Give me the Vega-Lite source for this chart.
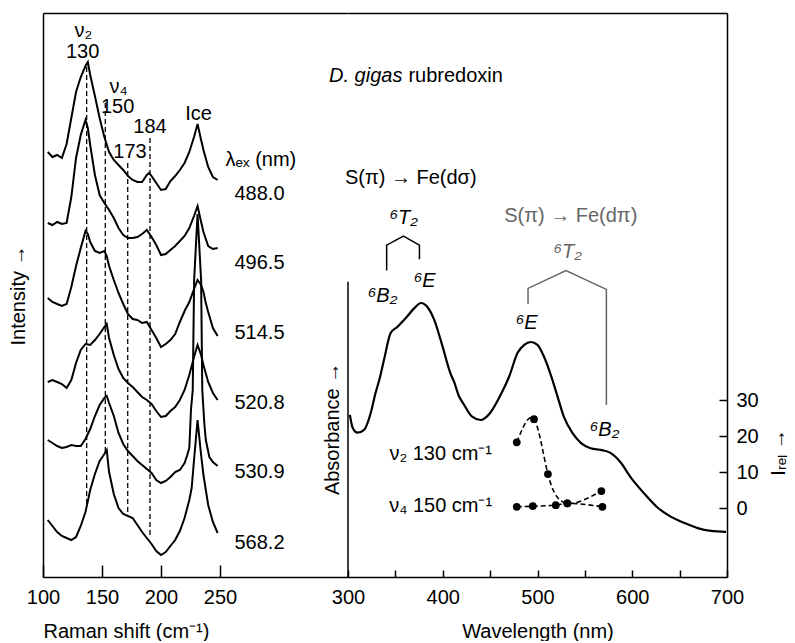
{
  "$schema": "https://vega.github.io/schema/vega-lite/v6.json",
  "padding": {"left": 8, "top": 13, "right": 0, "bottom": 0},
  "spacing": 0,
  "bounds": "flush",
  "config": {
    "font": "Liberation Sans",
    "view": {"stroke": null},
    "axis": {"grid": false, "domainColor": "#000", "domainWidth": 1.5, "tickColor": "#000", "tickWidth": 1.5, "labelColor": "#000", "labelFontSize": 20, "titleColor": "#000", "titleFontSize": 20, "titleFontWeight": "normal", "labelFont": "Liberation Sans", "titleFont": "Liberation Sans"}
  },
  "datasets": {
    "traces": [
      {"t":"488.0","r":104,"i":425},{"t":"488.0","r":108,"i":420},{"t":"488.0","r":112,"i":422},{"t":"488.0","r":116,"i":419},{"t":"488.0","r":120,"i":433},{"t":"488.0","r":124,"i":459},{"t":"488.0","r":128,"i":485},{"t":"488.0","r":132,"i":500},{"t":"488.0","r":136,"i":511},{"t":"488.0","r":138,"i":515},{"t":"488.0","r":140,"i":502},{"t":"488.0","r":144,"i":481},{"t":"488.0","r":148,"i":459},{"t":"488.0","r":152,"i":440},{"t":"488.0","r":156,"i":425},{"t":"488.0","r":160,"i":417},{"t":"488.0","r":164,"i":412},{"t":"488.0","r":168,"i":407},{"t":"488.0","r":172,"i":401},{"t":"488.0","r":176,"i":397},{"t":"488.0","r":180,"i":395},{"t":"488.0","r":184,"i":395},{"t":"488.0","r":188,"i":402},{"t":"488.0","r":190,"i":404},{"t":"488.0","r":192,"i":401},{"t":"488.0","r":196,"i":394},{"t":"488.0","r":200,"i":387},{"t":"488.0","r":204,"i":388},{"t":"488.0","r":208,"i":396},{"t":"488.0","r":212,"i":401},{"t":"488.0","r":216,"i":407},{"t":"488.0","r":220,"i":414},{"t":"488.0","r":224,"i":425},{"t":"488.0","r":228,"i":440},{"t":"488.0","r":231,"i":453},{"t":"488.0","r":234,"i":437},{"t":"488.0","r":236,"i":427},{"t":"488.0","r":240,"i":410},{"t":"488.0","r":244,"i":400},{"t":"488.0","r":248,"i":397},
      {"t":"496.5","r":104,"i":354},{"t":"496.5","r":108,"i":352},{"t":"496.5","r":112,"i":355},{"t":"496.5","r":116,"i":353},{"t":"496.5","r":120,"i":354},{"t":"496.5","r":124,"i":380},{"t":"496.5","r":128,"i":419},{"t":"496.5","r":132,"i":442},{"t":"496.5","r":136,"i":457},{"t":"496.5","r":138,"i":449},{"t":"496.5","r":140,"i":432},{"t":"496.5","r":144,"i":402},{"t":"496.5","r":148,"i":382},{"t":"496.5","r":152,"i":374},{"t":"496.5","r":156,"i":367},{"t":"496.5","r":160,"i":359},{"t":"496.5","r":164,"i":349},{"t":"496.5","r":168,"i":342},{"t":"496.5","r":172,"i":339},{"t":"496.5","r":176,"i":339},{"t":"496.5","r":180,"i":340},{"t":"496.5","r":184,"i":343},{"t":"496.5","r":188,"i":347},{"t":"496.5","r":192,"i":340},{"t":"496.5","r":196,"i":332},{"t":"496.5","r":200,"i":322},{"t":"496.5","r":204,"i":323},{"t":"496.5","r":208,"i":327},{"t":"496.5","r":212,"i":331},{"t":"496.5","r":216,"i":336},{"t":"496.5","r":220,"i":341},{"t":"496.5","r":224,"i":349},{"t":"496.5","r":228,"i":361},{"t":"496.5","r":231,"i":371},{"t":"496.5","r":234,"i":355},{"t":"496.5","r":236,"i":345},{"t":"496.5","r":240,"i":331},{"t":"496.5","r":244,"i":328},{"t":"496.5","r":248,"i":329},
      {"t":"514.5","r":104,"i":279},{"t":"514.5","r":108,"i":275},{"t":"514.5","r":112,"i":273},{"t":"514.5","r":116,"i":271},{"t":"514.5","r":120,"i":273},{"t":"514.5","r":124,"i":290},{"t":"514.5","r":128,"i":311},{"t":"514.5","r":132,"i":329},{"t":"514.5","r":136,"i":346},{"t":"514.5","r":138,"i":343},{"t":"514.5","r":140,"i":335},{"t":"514.5","r":144,"i":326},{"t":"514.5","r":148,"i":324},{"t":"514.5","r":152,"i":326},{"t":"514.5","r":154,"i":321},{"t":"514.5","r":156,"i":311},{"t":"514.5","r":160,"i":297},{"t":"514.5","r":164,"i":284},{"t":"514.5","r":168,"i":273},{"t":"514.5","r":172,"i":263},{"t":"514.5","r":176,"i":258},{"t":"514.5","r":180,"i":257},{"t":"514.5","r":184,"i":254},{"t":"514.5","r":188,"i":255},{"t":"514.5","r":192,"i":247},{"t":"514.5","r":196,"i":239},{"t":"514.5","r":200,"i":230},{"t":"514.5","r":204,"i":233},{"t":"514.5","r":208,"i":237},{"t":"514.5","r":212,"i":243},{"t":"514.5","r":216,"i":255},{"t":"514.5","r":220,"i":266},{"t":"514.5","r":224,"i":275},{"t":"514.5","r":228,"i":288},{"t":"514.5","r":231,"i":297},{"t":"514.5","r":234,"i":292},{"t":"514.5","r":236,"i":285},{"t":"514.5","r":238,"i":274},{"t":"514.5","r":240,"i":265},{"t":"514.5","r":244,"i":249},{"t":"514.5","r":248,"i":241},
      {"t":"520.8","r":104,"i":195},{"t":"520.8","r":108,"i":197},{"t":"520.8","r":112,"i":195},{"t":"520.8","r":116,"i":193},{"t":"520.8","r":120,"i":189},{"t":"520.8","r":124,"i":197},{"t":"520.8","r":128,"i":214},{"t":"520.8","r":132,"i":227},{"t":"520.8","r":136,"i":233},{"t":"520.8","r":140,"i":232},{"t":"520.8","r":144,"i":237},{"t":"520.8","r":148,"i":243},{"t":"520.8","r":152,"i":250},{"t":"520.8","r":154,"i":253},{"t":"520.8","r":156,"i":239},{"t":"520.8","r":160,"i":222},{"t":"520.8","r":164,"i":208},{"t":"520.8","r":168,"i":199},{"t":"520.8","r":172,"i":194},{"t":"520.8","r":176,"i":190},{"t":"520.8","r":180,"i":185},{"t":"520.8","r":184,"i":180},{"t":"520.8","r":188,"i":177},{"t":"520.8","r":192,"i":173},{"t":"520.8","r":196,"i":166},{"t":"520.8","r":200,"i":160},{"t":"520.8","r":204,"i":161},{"t":"520.8","r":208,"i":166},{"t":"520.8","r":212,"i":170},{"t":"520.8","r":216,"i":177},{"t":"520.8","r":220,"i":187},{"t":"520.8","r":224,"i":202},{"t":"520.8","r":228,"i":220},{"t":"520.8","r":231,"i":232},{"t":"520.8","r":234,"i":222},{"t":"520.8","r":236,"i":212},{"t":"520.8","r":240,"i":195},{"t":"520.8","r":244,"i":184},{"t":"520.8","r":248,"i":177},
      {"t":"530.9","r":104,"i":137},{"t":"530.9","r":108,"i":134},{"t":"530.9","r":112,"i":131},{"t":"530.9","r":116,"i":129},{"t":"530.9","r":120,"i":130},{"t":"530.9","r":124,"i":132},{"t":"530.9","r":128,"i":131},{"t":"530.9","r":132,"i":131},{"t":"530.9","r":136,"i":138},{"t":"530.9","r":140,"i":148},{"t":"530.9","r":144,"i":161},{"t":"530.9","r":148,"i":172},{"t":"530.9","r":152,"i":179},{"t":"530.9","r":154,"i":181},{"t":"530.9","r":156,"i":174},{"t":"530.9","r":160,"i":161},{"t":"530.9","r":164,"i":144},{"t":"530.9","r":168,"i":133},{"t":"530.9","r":172,"i":126},{"t":"530.9","r":176,"i":121},{"t":"530.9","r":180,"i":116},{"t":"530.9","r":184,"i":112},{"t":"530.9","r":188,"i":108},{"t":"530.9","r":192,"i":104},{"t":"530.9","r":196,"i":97},{"t":"530.9","r":200,"i":94},{"t":"530.9","r":204,"i":96},{"t":"530.9","r":208,"i":100},{"t":"530.9","r":212,"i":105},{"t":"530.9","r":216,"i":107},{"t":"530.9","r":220,"i":114},{"t":"530.9","r":222,"i":121},{"t":"530.9","r":224,"i":129},{"t":"530.9","r":225.4,"i":167},{"t":"530.9","r":226.9,"i":187},{"t":"530.9","r":228.1,"i":297},{"t":"530.9","r":231,"i":363},{"t":"530.9","r":234,"i":297},{"t":"530.9","r":235,"i":187},{"t":"530.9","r":236.7,"i":154},{"t":"530.9","r":238,"i":137},{"t":"530.9","r":241,"i":120},{"t":"530.9","r":244,"i":115},{"t":"530.9","r":248,"i":111},
      {"t":"568.2","r":104,"i":57},{"t":"568.2","r":108,"i":51},{"t":"568.2","r":112,"i":45},{"t":"568.2","r":116,"i":41},{"t":"568.2","r":120,"i":39},{"t":"568.2","r":124,"i":37},{"t":"568.2","r":128,"i":40},{"t":"568.2","r":132,"i":51},{"t":"568.2","r":136,"i":65},{"t":"568.2","r":140,"i":87},{"t":"568.2","r":144,"i":103},{"t":"568.2","r":148,"i":116},{"t":"568.2","r":152,"i":123},{"t":"568.2","r":154,"i":127},{"t":"568.2","r":156,"i":105},{"t":"568.2","r":160,"i":83},{"t":"568.2","r":164,"i":69},{"t":"568.2","r":168,"i":63},{"t":"568.2","r":172,"i":61},{"t":"568.2","r":176,"i":59},{"t":"568.2","r":180,"i":52},{"t":"568.2","r":184,"i":45},{"t":"568.2","r":188,"i":39},{"t":"568.2","r":192,"i":33},{"t":"568.2","r":196,"i":26},{"t":"568.2","r":200,"i":22},{"t":"568.2","r":204,"i":25},{"t":"568.2","r":208,"i":31},{"t":"568.2","r":212,"i":37},{"t":"568.2","r":216,"i":46},{"t":"568.2","r":220,"i":59},{"t":"568.2","r":224,"i":77},{"t":"568.2","r":226,"i":89},{"t":"568.2","r":228,"i":117},{"t":"568.2","r":231,"i":157},{"t":"568.2","r":234,"i":122},{"t":"568.2","r":236,"i":102},{"t":"568.2","r":240,"i":72},{"t":"568.2","r":244,"i":55},{"t":"568.2","r":248,"i":44}
    ],
    "markers": [
      {"r":137.0,"top":510,"bottom":72},
      {"r":152.8,"top":474,"bottom":124},
      {"r":171.8,"top":414,"bottom":62},
      {"r":190.7,"top":439,"bottom":42}
    ],
    "leftLabels": [
      {"r":134.3,"i":546,"label":"ν₂"},
      {"r":133.6,"i":525,"label":"130"},
      {"r":164.0,"i":490,"label":"ν₄"},
      {"r":163.3,"i":470,"label":"150"},
      {"r":173.7,"i":425,"label":"173"},
      {"r":190.7,"i":450,"label":"184"},
      {"r":231.8,"i":463,"label":"Ice"},
      {"r":284.7,"i":417,"label":"λₑₓ (nm)"},
      {"r":283.5,"i":383,"label":"488.0"},
      {"r":283.5,"i":314,"label":"496.5"},
      {"r":283.5,"i":244,"label":"514.5"},
      {"r":283.5,"i":174,"label":"520.8"},
      {"r":283.5,"i":105,"label":"530.9"},
      {"r":283.5,"i":34,"label":"568.2"}
    ],
    "absorb": [
      {"wl":302,"A":0.345},{"wl":305,"A":0.317},{"wl":310,"A":0.307},{"wl":317,"A":0.313},{"wl":324,"A":0.349},{"wl":329,"A":0.391},{"wl":333,"A":0.419},{"wl":338,"A":0.462},{"wl":345,"A":0.519},{"wl":352,"A":0.532},{"wl":361,"A":0.551},{"wl":370,"A":0.572},{"wl":377,"A":0.583},{"wl":384,"A":0.574},{"wl":391,"A":0.547},{"wl":400,"A":0.489},{"wl":408,"A":0.434},{"wl":412,"A":0.415},{"wl":417,"A":0.385},{"wl":422,"A":0.368},{"wl":431,"A":0.341},{"wl":440,"A":0.334},{"wl":450,"A":0.349},{"wl":461,"A":0.387},{"wl":470,"A":0.426},{"wl":479,"A":0.477},{"wl":486,"A":0.494},{"wl":493,"A":0.5},{"wl":500,"A":0.494},{"wl":507,"A":0.468},{"wl":514,"A":0.43},{"wl":521,"A":0.385},{"wl":528,"A":0.34},{"wl":537,"A":0.306},{"wl":546,"A":0.285},{"wl":556,"A":0.274},{"wl":568,"A":0.27},{"wl":577,"A":0.264},{"wl":588,"A":0.243},{"wl":598,"A":0.213},{"wl":612,"A":0.179},{"wl":626,"A":0.149},{"wl":641,"A":0.128},{"wl":655,"A":0.115},{"wl":669,"A":0.104},{"wl":683,"A":0.098},{"wl":699,"A":0.096}
    ],
    "absAxis": [{"wl":300,"A0":0,"A1":0.628}],
    "brackets": [
      {"g":"black","o":1,"wl":340.8,"A":0.652},{"g":"black","o":2,"wl":340.8,"A":0.706},{"g":"black","o":3,"wl":358.5,"A":0.7255},{"g":"black","o":4,"wl":375.4,"A":0.706},{"g":"black","o":5,"wl":375.4,"A":0.676},
      {"g":"gray","o":1,"wl":490,"A":0.581},{"g":"gray","o":2,"wl":490,"A":0.614},{"g":"gray","o":3,"wl":530.1,"A":0.652},{"g":"gray","o":4,"wl":572.7,"A":0.612},{"g":"gray","o":5,"wl":572.7,"A":0.366}
    ],
    "rtext": [
      {"s":"i","wl":318.7,"A":1.066,"label":"D. gigas"},
      {"s":"n","wl":413.6,"A":1.066,"label":"rubredoxin"},
      {"s":"n","wl":366.2,"A":0.849,"label":"S(π) → Fe(dσ)"},
      {"s":"i","wl":358.8,"A":0.764,"label":"⁶T₂"},
      {"s":"i","wl":336.6,"A":0.598,"label":"⁶B₂"},
      {"s":"i","wl":381.0,"A":0.630,"label":"⁶E"},
      {"s":"g","wl":535.1,"A":0.768,"label":"S(π) → Fe(dπ)"},
      {"s":"gi","wl":531.9,"A":0.691,"label":"⁶T₂"},
      {"s":"i","wl":488.6,"A":0.540,"label":"⁶E"},
      {"s":"i","wl":570.9,"A":0.313,"label":"⁶B₂"},
      {"s":"n","wl":397.8,"A":0.262,"label":"ν₂ 130 cm⁻¹"},
      {"s":"n","wl":397.8,"A":0.151,"label":"ν₄ 150 cm⁻¹"},
      {"s":"rot","wl":283.9,"A":0.315,"label":"Absorbance →"}
    ],
    "irel": [
      {"mode":"v2","wl":478.1,"I":18.3},{"mode":"v2","wl":496.3,"I":24.7},{"mode":"v2","wl":511.0,"I":9.5},{"mode":"v2","wl":531.5,"I":1.4},{"mode":"v2","wl":567.4,"I":4.8},
      {"mode":"v4","wl":478.1,"I":0.45},{"mode":"v4","wl":495.0,"I":0.6},{"mode":"v4","wl":519.3,"I":0.9},{"mode":"v4","wl":531.5,"I":1.4},{"mode":"v4","wl":568.5,"I":0.45}
    ]
  },
  "hconcat": [
    {
      "width": 305,
      "height": 564,
      "layer": [
        {
          "data": {"name": "traces"},
          "mark": {"type": "line", "color": "#000", "strokeWidth": 2},
          "encoding": {
            "x": {"field": "r", "type": "quantitative", "scale": {"domain": [100, 358.5], "nice": false, "zero": false},
                  "axis": {"orient": "bottom", "values": [100, 150, 200, 250], "tickSize": -12, "labelPadding": 22, "labelFlush": false, "title": "Raman shift (cm⁻¹)", "titleAnchor": "start", "titlePadding": 14}},
            "y": {"field": "i", "type": "quantitative", "scale": {"domain": [0, 564], "nice": false, "zero": false},
                  "axis": {"orient": "left", "ticks": false, "labels": false, "domain": true, "title": "Intensity →", "titlePadding": 15}},
            "detail": {"field": "t"}
          }
        },
        {
          "data": {"name": "markers"},
          "mark": {"type": "rule", "color": "#000", "strokeWidth": 1.3, "strokeDash": [5, 3]},
          "encoding": {
            "x": {"field": "r", "type": "quantitative", "axis": {"orient": "top", "ticks": false, "labels": false, "title": null}},
            "y": {"field": "top", "type": "quantitative"},
            "y2": {"field": "bottom"}
          }
        },
        {
          "data": {"name": "leftLabels"},
          "mark": {"type": "text", "fontSize": 20, "align": "center", "baseline": "middle", "color": "#000"},
          "encoding": {
            "x": {"field": "r", "type": "quantitative", "axis": null},
            "y": {"field": "i", "type": "quantitative"},
            "text": {"field": "label"}
          }
        }
      ]
    },
    {
      "width": 379,
      "height": 564,
      "resolve": {"scale": {"y": "independent"}},
      "layer": [
        {
          "layer": [
            {
              "data": {"name": "absorb"},
              "mark": {"type": "line", "color": "#000", "strokeWidth": 2.2, "interpolate": "monotone"},
              "encoding": {
                "x": {"field": "wl", "type": "quantitative", "scale": {"domain": [300, 700], "nice": false, "zero": false},
                      "axis": {"orient": "bottom", "values": [300, 350, 400, 450, 500, 550, 600, 650, 700], "labelExpr": "datum.value % 100 === 0 ? datum.label : ''", "tickSize": -7, "labelPadding": 17, "labelFlush": false, "title": "Wavelength (nm)", "titlePadding": 14}},
                "y": {"field": "A", "type": "quantitative", "scale": {"domain": [0, 1.2], "nice": false, "zero": false}, "axis": null}
              }
            },
            {
              "data": {"name": "absAxis"},
              "mark": {"type": "rule", "color": "#000", "strokeWidth": 1.5},
              "encoding": {
                "x": {"field": "wl", "type": "quantitative", "axis": {"orient": "top", "ticks": false, "labels": false, "title": null}},
                "y": {"field": "A0", "type": "quantitative", "scale": {"domain": [0, 1.2], "nice": false, "zero": false}, "axis": null},
                "y2": {"field": "A1"}
              }
            },
            {
              "data": {"name": "brackets"},
              "mark": {"type": "line", "strokeWidth": 1.5},
              "encoding": {
                "x": {"field": "wl", "type": "quantitative", "axis": null},
                "y": {"field": "A", "type": "quantitative", "scale": {"domain": [0, 1.2], "nice": false, "zero": false}, "axis": null},
                "detail": {"field": "g"},
                "order": {"field": "o", "type": "quantitative"},
                "color": {"field": "g", "type": "nominal", "scale": {"domain": ["black", "gray"], "range": ["#000000", "#666666"]}, "legend": null}
              }
            },
            {
              "data": {"name": "rtext"},
              "transform": [{"filter": "datum.s === 'n'"}],
              "mark": {"type": "text", "fontSize": 20, "align": "center", "baseline": "middle", "color": "#000"},
              "encoding": {
                "x": {"field": "wl", "type": "quantitative", "axis": null},
                "y": {"field": "A", "type": "quantitative", "scale": {"domain": [0, 1.2], "nice": false, "zero": false}, "axis": null},
                "text": {"field": "label"}
              }
            },
            {
              "data": {"name": "rtext"},
              "transform": [{"filter": "datum.s === 'i'"}],
              "mark": {"type": "text", "fontSize": 20, "fontStyle": "italic", "align": "center", "baseline": "middle", "color": "#000"},
              "encoding": {
                "x": {"field": "wl", "type": "quantitative", "axis": null},
                "y": {"field": "A", "type": "quantitative", "scale": {"domain": [0, 1.2], "nice": false, "zero": false}, "axis": null},
                "text": {"field": "label"}
              }
            },
            {
              "data": {"name": "rtext"},
              "transform": [{"filter": "datum.s === 'g'"}],
              "mark": {"type": "text", "fontSize": 20, "align": "center", "baseline": "middle", "color": "#666666"},
              "encoding": {
                "x": {"field": "wl", "type": "quantitative", "axis": null},
                "y": {"field": "A", "type": "quantitative", "scale": {"domain": [0, 1.2], "nice": false, "zero": false}, "axis": null},
                "text": {"field": "label"}
              }
            },
            {
              "data": {"name": "rtext"},
              "transform": [{"filter": "datum.s === 'gi'"}],
              "mark": {"type": "text", "fontSize": 20, "fontStyle": "italic", "align": "center", "baseline": "middle", "color": "#666666"},
              "encoding": {
                "x": {"field": "wl", "type": "quantitative", "axis": null},
                "y": {"field": "A", "type": "quantitative", "scale": {"domain": [0, 1.2], "nice": false, "zero": false}, "axis": null},
                "text": {"field": "label"}
              }
            },
            {
              "data": {"name": "rtext"},
              "transform": [{"filter": "datum.s === 'rot'"}],
              "mark": {"type": "text", "fontSize": 20, "angle": 270, "align": "center", "baseline": "middle", "color": "#000"},
              "encoding": {
                "x": {"field": "wl", "type": "quantitative", "axis": null},
                "y": {"field": "A", "type": "quantitative", "scale": {"domain": [0, 1.2], "nice": false, "zero": false}, "axis": null},
                "text": {"field": "label"}
              }
            }
          ]
        },
        {
          "layer": [
            {
              "data": {"name": "irel"},
              "transform": [{"filter": "datum.mode === 'v2'"}],
              "mark": {"type": "line", "color": "#000", "strokeWidth": 1.6, "strokeDash": [5, 3], "interpolate": "natural"},
              "encoding": {
                "x": {"field": "wl", "type": "quantitative", "axis": null},
                "y": {"field": "I", "type": "quantitative", "scale": {"domain": [-19, 137.2], "nice": false, "zero": false},
                      "axis": {"orient": "right", "values": [0, 10, 20, 30], "tickSize": -8, "labelPadding": 17, "domain": true, "title": "Iᵣₑₗ →", "titleAngle": 270, "titleX": 51, "titleY": 439, "titleAlign": "center", "titleBaseline": "middle"}}
              }
            },
            {
              "data": {"name": "irel"},
              "transform": [{"filter": "datum.mode === 'v4'"}],
              "mark": {"type": "line", "color": "#000", "strokeWidth": 1.6, "strokeDash": [5, 3], "interpolate": "monotone"},
              "encoding": {
                "x": {"field": "wl", "type": "quantitative", "axis": null},
                "y": {"field": "I", "type": "quantitative", "scale": {"domain": [-19, 137.2], "nice": false, "zero": false}}
              }
            },
            {
              "data": {"name": "irel"},
              "mark": {"type": "point", "filled": true, "color": "#000", "size": 60, "opacity": 1},
              "encoding": {
                "x": {"field": "wl", "type": "quantitative", "axis": null},
                "y": {"field": "I", "type": "quantitative", "scale": {"domain": [-19, 137.2], "nice": false, "zero": false}}
              }
            }
          ]
        }
      ]
    }
  ]
}
